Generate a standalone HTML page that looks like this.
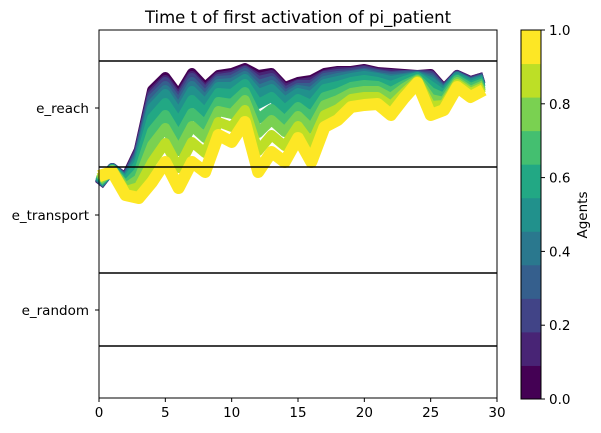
<!DOCTYPE html>
<html><head><meta charset="utf-8"><style>
body{margin:0;background:#fff;}
svg{display:block;font-family:"DejaVu Sans","Liberation Sans",sans-serif;}
</style></head><body>
<svg id="chart" width="601" height="433" viewBox="0 0 601 433" xmlns="http://www.w3.org/2000/svg">
<text x="298" y="23" text-anchor="middle" font-size="16.5">Time t of first activation of pi_patient</text>
<g id="lines"></g>
<g id="hlines"></g>
<rect x="99" y="30" width="398" height="368" fill="none" stroke="#000" stroke-width="1"/>
<g id="xaxis"></g>
<g id="yaxis"></g>
<g id="cbar"></g>
<text transform="translate(587,215) rotate(-90)" text-anchor="middle" font-size="13.5">Agents</text>
</svg>
<script>
const timeSteps = [0,1,2,3,4,5,6,7,8,9,10,11,12,13,14,15,16,17,18,19,20,21,22,23,24,25,26,27,28,29];
// values: depth below top of plot (larger = lower on chart)
const agent0 = [155,138,148,120,60,47,65,43,57,45,43,38,45,43,57,52,50,43,41,41,39,42,43,44,45,44,59,45,51,47];
const agent1 = [155,138,149,121,63,50,68,46,60,47,45,40,48,45,59,54,52,45,42,42,40,43,44,45,45,45,60,45,51,47];
const agent2 = [154,138,149,123,66,52,71,48,62,49,47,41,51,48,62,55,55,46,44,43,41,44,46,45,45,46,60,46,52,48];
const agent3 = [154,138,150,125,69,56,74,52,66,51,50,43,55,51,65,58,58,48,46,45,43,45,47,46,46,48,61,46,53,48];
const agent4 = [154,139,151,127,74,60,79,56,70,54,53,46,60,55,68,60,62,51,48,46,44,47,49,48,46,50,62,47,53,49];
const agent5 = [153,139,151,130,78,64,84,61,74,57,57,49,64,59,72,63,66,54,51,48,46,48,51,49,47,52,63,47,54,50];
const agent6 = [152,139,153,134,88,73,93,70,83,63,64,54,74,67,80,69,75,59,56,52,50,52,56,51,47,56,65,49,56,51];
const agent7 = [151,140,156,142,101,85,107,83,95,72,74,62,89,79,91,77,87,67,63,57,55,56,62,55,49,62,68,50,58,53];
const agent8 = [150,140,158,149,115,98,121,96,108,81,84,70,103,90,102,86,99,75,70,63,61,61,68,58,50,69,72,52,61,55];
const agent9 = [148,141,161,157,132,113,138,112,123,92,97,80,121,105,116,96,114,85,79,69,67,67,76,63,51,76,75,54,63,57];
const agent10 = [146,142,165,168,152,132,158,132,142,105,112,92,142,122,132,108,132,97,90,77,75,74,85,68,53,85,80,57,67,60];
const agentSeries = [agent0,agent1,agent2,agent3,agent4,agent5,agent6,agent7,agent8,agent9,agent10];
const xTicks = [0,5,10,15,20,25,30];
const yCategories = ["e_reach","e_transport","e_random"];
const yCategoryValues = [78,185,280];
const separatorValues = [31,137,243,316];
const cbarTicks = ["0.0","0.2","0.4","0.6","0.8","1.0"];
const cbarTickValues = [0,0.2,0.4,0.6,0.8,1.0];
const viridis11 = ["#440154","#482475","#414487","#355f8d","#2a788e","#21918c","#22a884","#44bf70","#7ad151","#bddf26","#fde725"];

const NS = "http://www.w3.org/2000/svg";
const X0=99, X1=497, Y0=30, Y1=398;
const xScale = t => X0 + t*(X1-X0)/30;
const yScale = v => Y0 + v*(Y1-Y0)/368;
function mk(tag, attrs, parent){const e=document.createElementNS(NS,tag);for(const k in attrs)e.setAttribute(k,attrs[k]);parent.appendChild(e);return e;}

const gl = document.getElementById('lines');
agentSeries.forEach((s,i)=>{
  const d = s.map((v,j)=>(j?'L':'M')+xScale(timeSteps[j]).toFixed(1)+','+yScale(v).toFixed(1)).join(' ');
  const p = mk('path',{d:d,fill:'none',stroke:viridis11[i],'stroke-width':i===10?12:10,'stroke-linejoin':'round'},gl);
  
  
});
const gh = document.getElementById('hlines');
separatorValues.forEach((v,i)=>{
  const l = mk('line',{x1:X0,x2:X1,y1:yScale(v),y2:yScale(v),stroke:'#000','stroke-width':1.6},gh);
  
  
});
const gx = document.getElementById('xaxis');
xTicks.forEach(t=>{
  const x = xScale(t);
  const tk = mk('line',{x1:x,x2:x,y1:Y1,y2:Y1+4,stroke:'#000'},gx);
  
  
  const tx = mk('text',{x:x,y:Y1+19,'text-anchor':'middle','font-size':13.5},gx);
  tx.textContent = t;
  
  
});
const gy = document.getElementById('yaxis');
yCategories.forEach((c,i)=>{
  const y = yScale(yCategoryValues[i]);
  const tk = mk('line',{x1:X0-4,x2:X0,y1:y,y2:y,stroke:'#000'},gy);
  
  
  const tx = mk('text',{x:X0-10,y:y+5,'text-anchor':'end','font-size':13.5},gy);
  tx.textContent = c;
  
  
});
const gc = document.getElementById('cbar');
const CX=521, CW=20, CT=30, CB=399, bh=(CB-CT)/11;
viridis11.forEach((col,i)=>{
  const r = mk('rect',{x:CX,y:CB-(i+1)*bh,width:CW,height:bh+0.5,fill:col},gc);
  
  
});
mk('rect',{x:CX,y:CT,width:CW,height:CB-CT,fill:'none',stroke:'#000','stroke-width':1},gc);
cbarTickValues.forEach((v,i)=>{
  const y = CB - v*(CB-CT);
  const tk = mk('line',{x1:CX+CW,x2:CX+CW+4,y1:y,y2:y,stroke:'#000'},gc);
  
  
  const tx = mk('text',{x:CX+CW+8,y:y+5,'font-size':13.5},gc);
  tx.textContent = cbarTicks[i];
  
  
});
</script>
</body></html>
